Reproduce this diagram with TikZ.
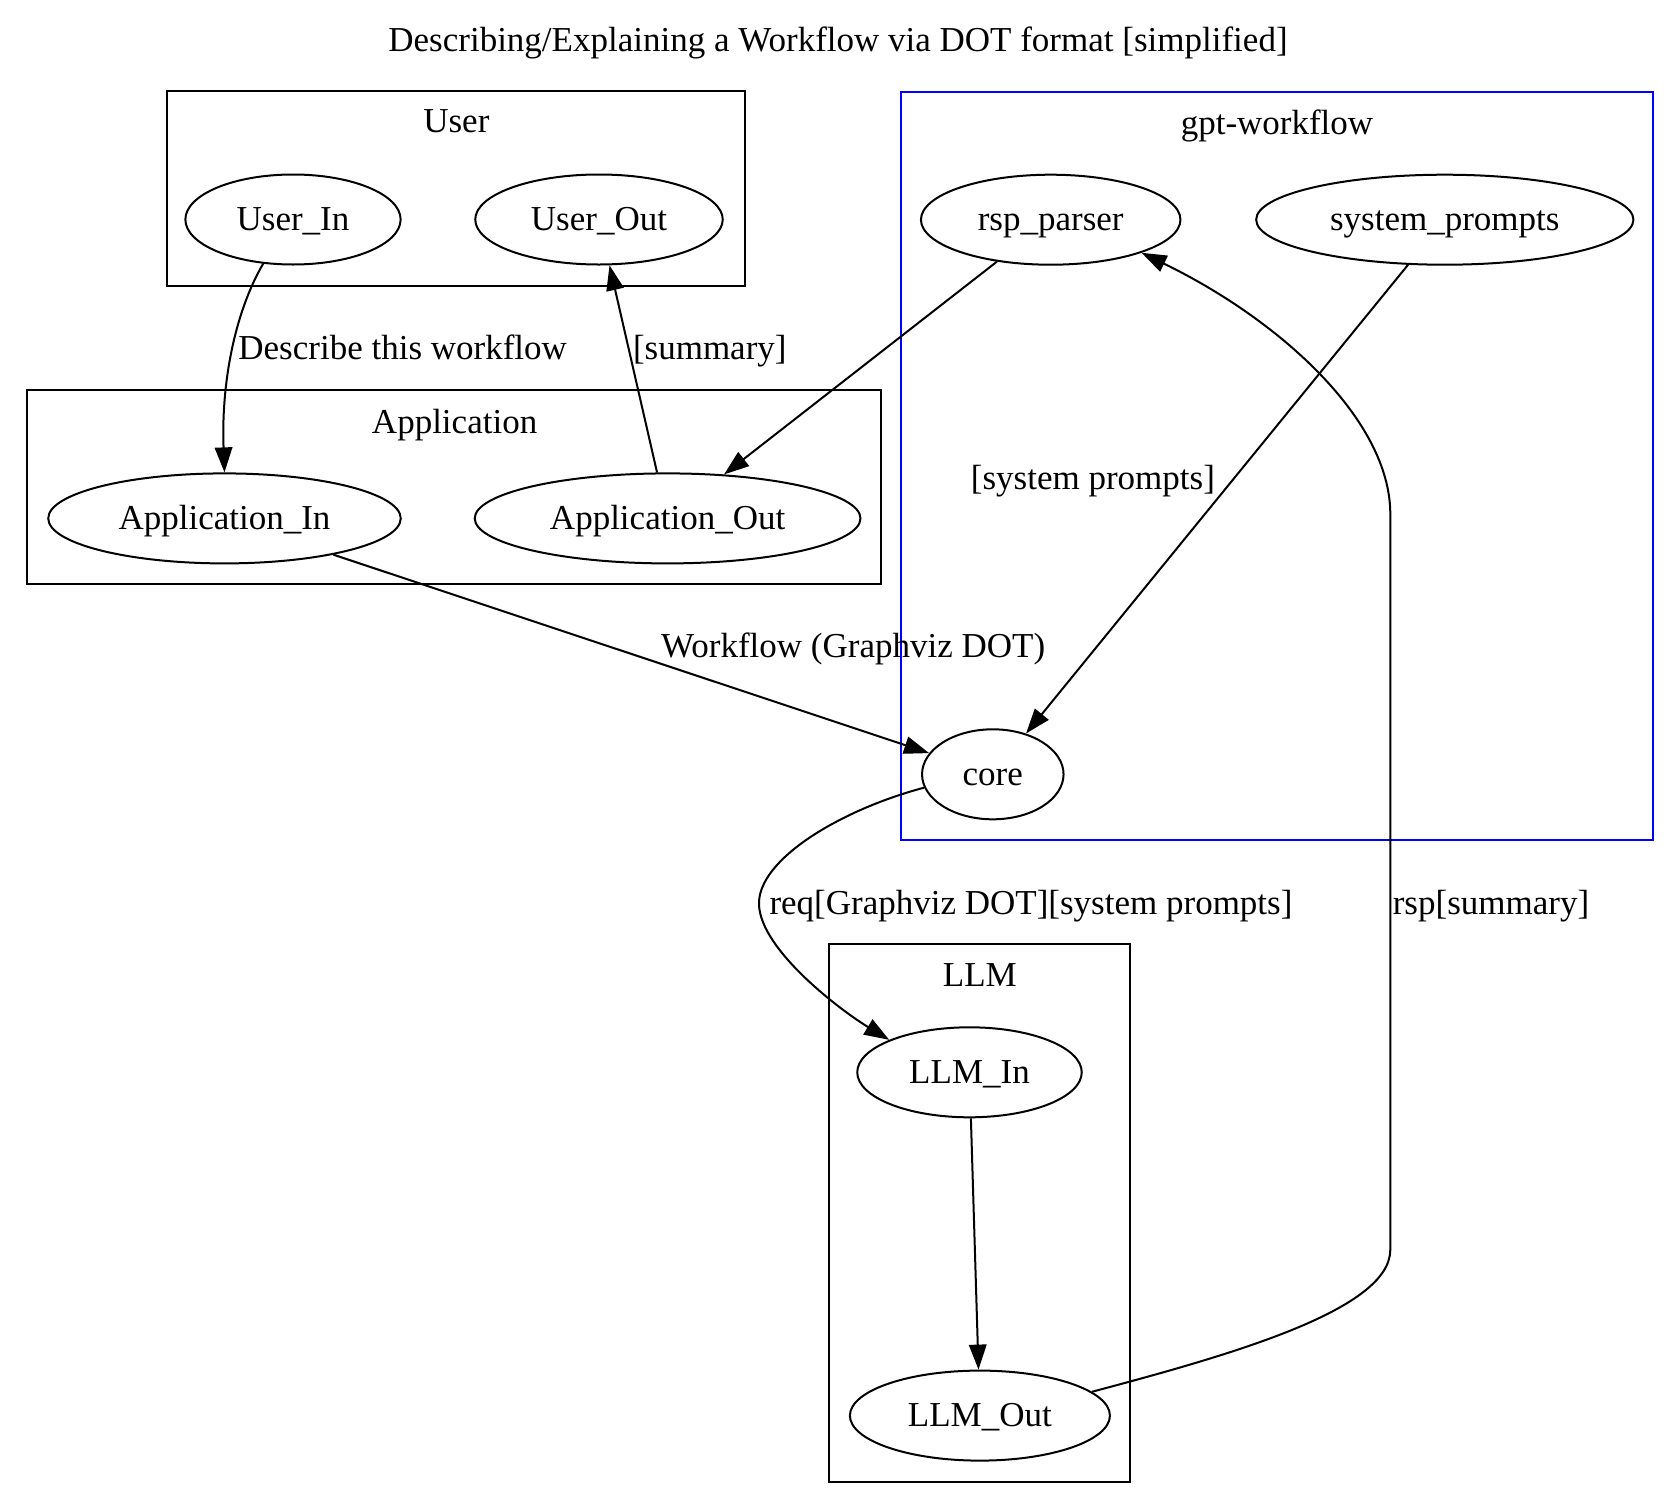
\documentclass[tikz,border=0pt]{standalone}
\usepackage{fontspec}
\setmainfont{Liberation Serif}
\usetikzlibrary{shapes.geometric,arrows.meta}
\begin{document}
\begin{tikzpicture}[x=0.4pt,y=-0.4pt,
  every node/.style={font=\fontsize{14pt}{16pt}\selectfont,text height=10pt,text depth=1.2pt},
  nd/.style={draw,ellipse,line width=0.8pt,inner sep=0pt,minimum height=36pt},
  lbl/.style={inner sep=0pt},
  edge/.style={line width=0.8pt,-{Triangle[length=10pt,width=7pt]}},
  cl/.style={draw,line width=0.8pt},
]
\useasboundingbox (0,0) rectangle (1675,1507);
% title
\node[lbl] (title) at (838,40.7) {Describing/Explaining a Workflow via DOT format [simplified]};
% clusters
\draw[cl] (166.5,90.7) rectangle (744.5,285.5);
\draw[cl] (27,389.6) rectangle (881.2,584.4);
\draw[cl,draw=blue] (901,91.6) rectangle (1653.4,839.6);
\draw[cl] (829.4,944) rectangle (1130.3,1482.3);
\node[lbl] (cUser) at (456.4,121.7) {User};
\node[lbl] (cApp) at (454.6,422.1) {Application};
\node[lbl] (cGpt) at (1277,123.8) {gpt-workflow};
\node[lbl] (cLLM) at (979.9,975.3) {LLM};
% nodes
\node[nd,minimum width=86.1pt] (ui) at (293,219.5) {User\_In};
\node[nd,minimum width=99pt] (uo) at (599,219.5) {User\_Out};
\node[nd,minimum width=141pt] (ai) at (224.5,518.4) {Application\_In};
\node[nd,minimum width=154.3pt] (ao) at (667.6,518.4) {Application\_Out};
\node[nd,minimum width=103.8pt] (rp) at (1050.7,219.7) {rsp\_parser};
\node[nd,minimum width=150.9pt] (sp) at (1444.8,219.7) {system\_prompts};
\node[nd,minimum width=56.6pt] (core) at (992.8,774.3) {core};
\node[nd,minimum width=89.8pt] (li) at (969.5,1072.3) {LLM\_In};
\node[nd,minimum width=104pt] (lo) at (979.9,1415.6) {LLM\_Out};
% edges
\draw[edge] (ui.236) .. controls (236,310) and (221,380) .. (ai.north);
\draw[edge] (ao) -- (uo);
\draw[edge] (rp) -- (ao);
\draw[edge] (sp) -- (core);
\draw[edge] (ai) -- (core);
\draw[edge] (core.191) .. controls (840,810) and (757,860) .. (759,905)
  .. controls (761,950) and (840,1010) .. (li.158);
\draw[edge] (li) -- (lo);
\draw[edge] (lo.12) .. controls (1230,1355) and (1390,1310) .. (1390.3,1250)
  -- (1390.3,514) .. controls (1390.3,420) and (1280,320) .. (rp.340);
% edge labels
\node[lbl] (l1) at (402.7,348.3) {Describe this workflow};
\node[lbl] (l2) at (709.8,348.3) {[summary]};
\node[lbl] (l3) at (1092.9,478.4) {[system prompts]};
\node[lbl,anchor=east] (l4) at (1045.7,646.7) {Workflow (Graphviz DOT)};
\node[lbl] (l5) at (1031,903.3) {req[Graphviz DOT][system prompts]};
\node[lbl] (l6) at (1491,903.3) {rsp[summary]};
\end{tikzpicture}
\end{document}
